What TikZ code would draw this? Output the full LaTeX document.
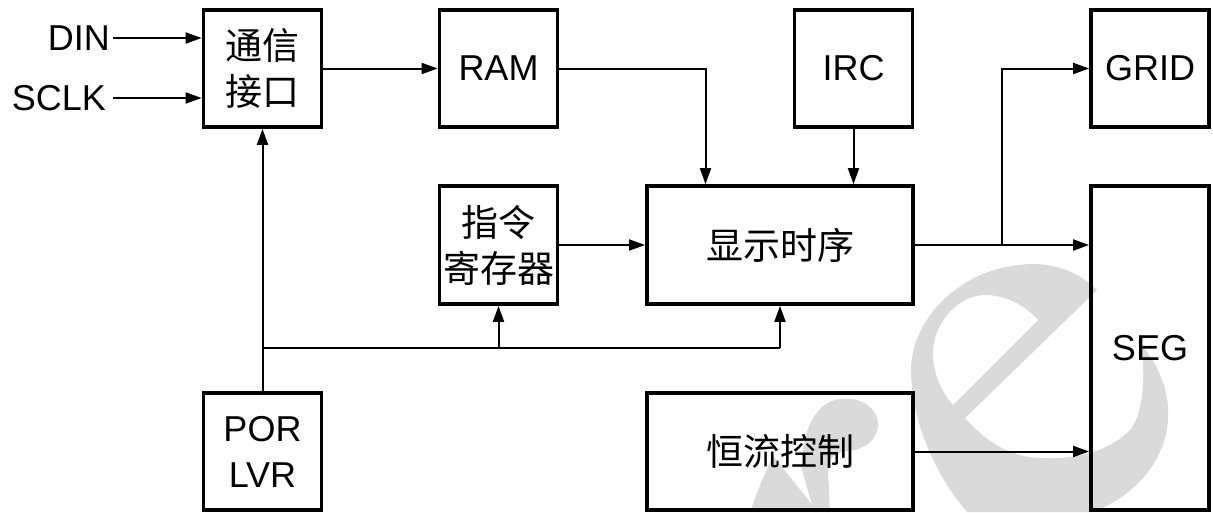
\documentclass[tikz,border=0pt]{standalone}
\usepackage{fontspec}
\setmainfont{Liberation Sans}
\newfontfamily\cjk{Noto Sans CJK SC}
\usetikzlibrary{arrows.meta}
\definecolor{wm}{RGB}{218,218,218}
\begin{document}
\begin{tikzpicture}[x=1pt,y=-1pt,
  blk/.style={draw, line width=3.8pt, inner sep=0pt, align=center},
  lat/.style={font=\fontsize{36}{46}\selectfont},
  han/.style={font=\cjk\fontsize{37}{46}\selectfont},
  conn/.style={line width=2pt, -{Triangle[length=16pt,width=11pt]}},
  wire/.style={line width=2pt}]
\useasboundingbox (0,0) rectangle (1213,512);

% watermark logo
\fill[wm, even odd rule]
  (1097,290) -- (965,418)
  .. controls (980,435) and (1005,457) .. (1040,458)
  .. controls (1080,460) and (1110,450) .. (1130,430)
  .. controls (1145,412) and (1145,370) .. (1141,345)
  .. controls (1160,365) and (1170,395) .. (1168,420)
  .. controls (1165,465) and (1130,498) .. (1093,512)
  -- (967,512)
  .. controls (935,475) and (911,420) .. (911,370)
  .. controls (911,320) and (960,265) .. (1033,264)
  .. controls (1060,264) and (1082,275) .. (1097,290) -- cycle
  (1038,320) -- (953,405)
  .. controls (940,390) and (932,370) .. (933,350)
  .. controls (935,320) and (960,295) .. (985,295)
  .. controls (1005,295) and (1025,305) .. (1038,320) -- cycle;
\fill[wm] (750,512) .. controls (757,492) and (764,475) .. (773,456) -- (818,512) -- cycle;
\fill[wm] (814,512) -- (802,470)
  .. controls (800,445) and (810,402) .. (840,399)
  .. controls (862,396) and (880,410) .. (878,427)
  .. controls (876,442) and (862,450) .. (848,451)
  .. controls (835,452) and (828,458) .. (828,470)
  -- (830,512) -- cycle;

% blocks
\node[blk, han, minimum width=118pt, minimum height=117pt] (comm) at (262.5,68.5) {通信\\接口};
\node[blk, lat, minimum width=118pt, minimum height=117pt] (ram) at (498.5,68.5) {RAM};
\node[blk, lat, minimum width=118pt, minimum height=117pt] (irc) at (853.5,68.5) {IRC};
\node[blk, lat, minimum width=118pt, minimum height=117pt] (grid) at (1150,68.5) {GRID};
\node[blk, han, minimum width=118pt, minimum height=118pt] (ins) at (498.5,245) {指令\\寄存器};
\node[blk, han, minimum width=266pt, minimum height=118pt] (disp) at (780,245) {显示时序};
\node[blk, lat, minimum width=118pt, minimum height=324pt] (seg) at (1150,348) {SEG};
\node[blk, lat, minimum width=118pt, minimum height=117pt] (por) at (262.5,451.5) {POR\\LVR};
\node[blk, han, minimum width=266pt, minimum height=117pt] (cc) at (780,451.5) {恒流控制};

% inputs
\node[lat, anchor=east, inner sep=0pt] (din) at (110,38) {DIN};
\node[lat, anchor=east, inner sep=0pt] (sclk) at (106,98) {SCLK};

% helper coordinates
\coordinate (rx) at (705.5,0);
\coordinate (br) at (1002,0);
\coordinate (bus) at (0,348);

% connectors
\draw[conn] ([xshift=3pt]din.east) -- (din.east -| comm.west);
\draw[conn] ([xshift=7pt]sclk.east) -- (sclk.east -| comm.west);
\draw[conn] (comm.east) -- (ram.west);
\draw[conn] (ram.east) -- (ram.east -| rx) -- (rx |- disp.north);
\draw[conn] (irc.south) -- (disp.north -| irc.south);
\draw[conn] (ins.east) -- (ins.east -| disp.west);
\draw[conn] (disp.east) -- (disp.east -| seg.west);
\draw[conn] (br |- disp.east) -- (br |- grid.west) -- (grid.west);
\draw[conn] (cc.east) -- (cc.east -| seg.west);
\draw[conn] (por.north) -- (comm.south);
\draw[wire] (por.north |- bus) -- (disp.south |- bus);
\draw[conn] (ins.south |- bus) -- (ins.south);
\draw[conn] (disp.south |- bus) -- (disp.south);
\end{tikzpicture}
\end{document}
